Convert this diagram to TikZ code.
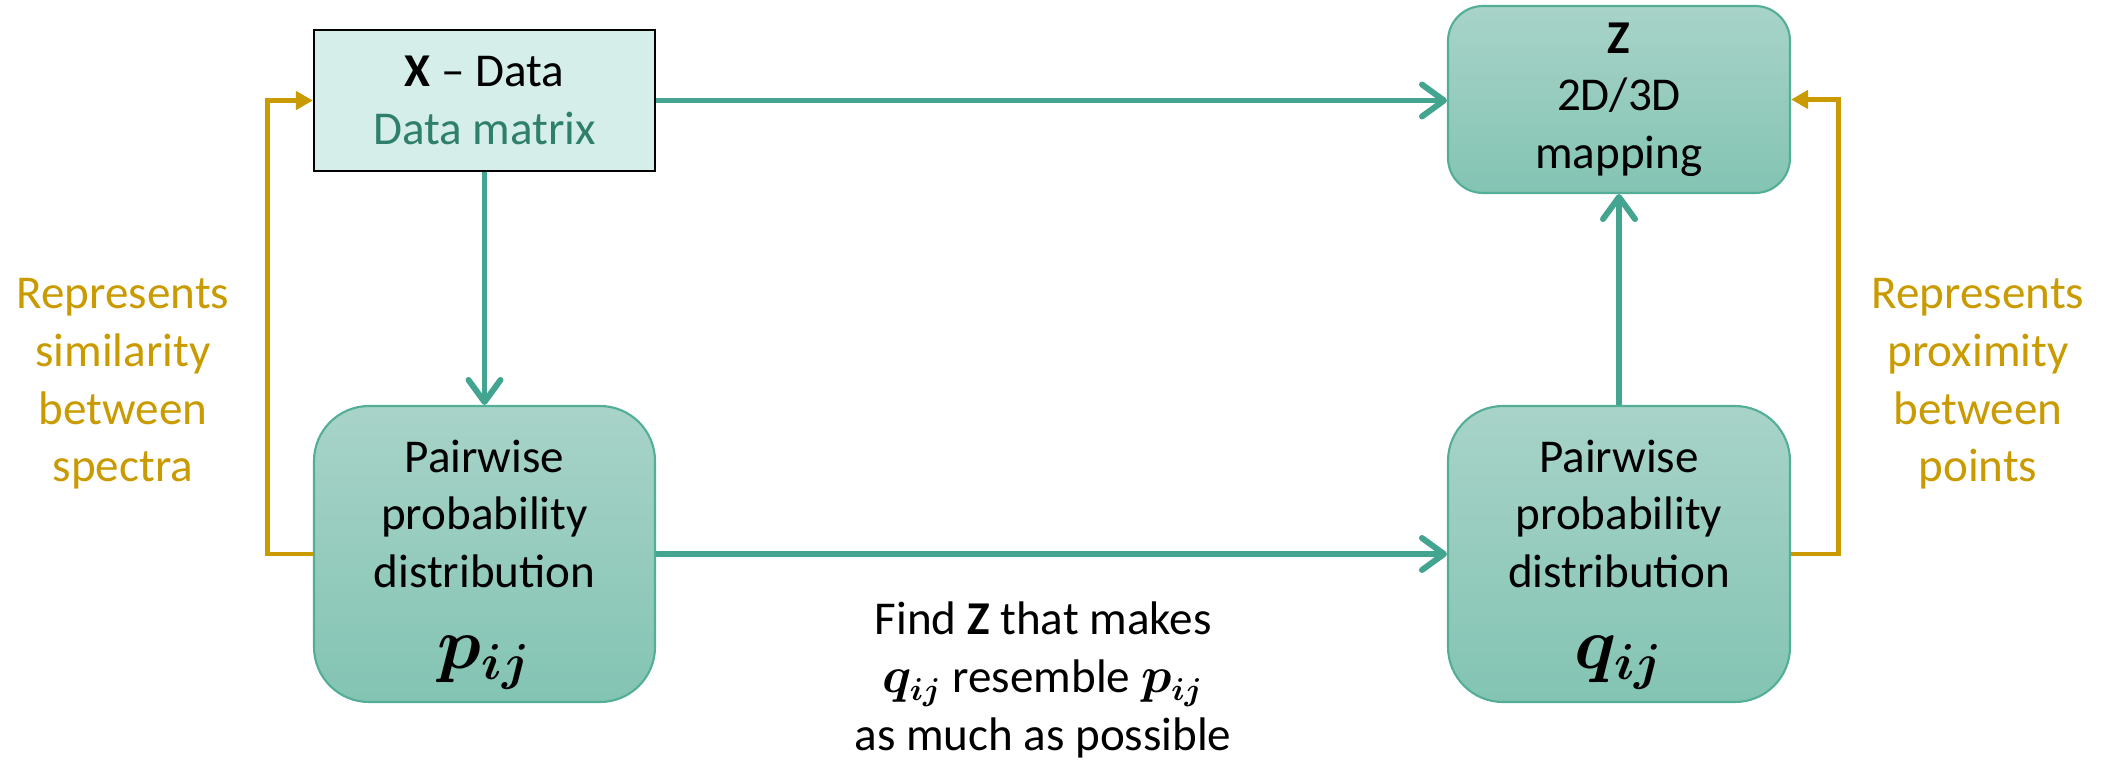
\documentclass[tikz,border=0pt]{standalone}
\usepackage{amsmath}
\usepackage{fontspec}
\setmainfont{Carlito}
\usetikzlibrary{positioning,arrows.meta}
\definecolor{tsneteal}{HTML}{43A58F}
\definecolor{tsneedge}{HTML}{52AE97}
\definecolor{tsnetop}{HTML}{A8D3C8}
\definecolor{tsnebottom}{HTML}{83C4B3}
\definecolor{tsnepale}{HTML}{D6EEEA}
\definecolor{tsnedark}{HTML}{2F7F6D}
\definecolor{tsnegold}{HTML}{C99B00}
\newcommand{\bigmath}{\fontsize{20}{24}\selectfont}
\newcommand{\topstrut}{\rule{0pt}{15.2pt}}

\begin{document}
\begin{tikzpicture}[every node/.style={font=\fontsize{13.4}{16.4}\selectfont, align=center},
    probbox/.style={draw=tsneedge, line width=0.6pt, top color=tsnetop, bottom color=tsnebottom,
      minimum width=3.41cm, minimum height=2.96cm, inner ysep=0pt, rounded corners=0.55cm},
    tealarrow/.style={draw=tsneteal, line width=1.7pt, -{Straight Barb[round,length=2.2mm,width=3.2mm]}},
    goldarrow/.style={draw=tsnegold, line width=1.4pt, -{Triangle[length=1.7mm,width=1.8mm]}},
    goldtext/.style={text=tsnegold}]
        \useasboundingbox (0,0) rectangle (21.07,-7.59);
        % data and mapping
        \node[draw=black, line width=0.6pt, fill=tsnepale, minimum width=3.41cm, minimum height=1.41cm] (xdata) at (4.845,-1.005) {\textbf{X} -- Data\\\textcolor{tsnedark}{Data matrix}};
        \node[probbox, minimum width=3.42cm, minimum height=1.87cm, rounded corners=0.35cm] (zmap) at (16.19,-0.995) {\textbf{Z}\\2D/3D\\mapping};
        % probability distributions
        \node[probbox] (pdist) at (4.845,-5.54) {\topstrut Pairwise\\probability\\distribution\\[6.7pt]{\bigmath$\boldsymbol{p_{ij}}$}};
        \node[probbox, minimum width=3.42cm] (qdist) at (16.19,-5.54) {\topstrut Pairwise\\probability\\distribution\\[6.7pt]{\bigmath$\boldsymbol{q_{ij}}$}};
        \draw[tealarrow] (xdata.east) -- (xdata.east -| zmap.west);
        \draw[tealarrow] (xdata.south) -- (pdist.north);
        \draw[tealarrow] (pdist.east) -- (pdist.east -| qdist.west);
        \draw[tealarrow] (qdist.north) -- (zmap.south);
        \draw[goldarrow] (pdist.west) -- ++(-0.45,0) |- (xdata.west);
        \draw[goldarrow] (qdist.east) -- ++(0.47,0) |- (zmap.east);
        % side notes
        \node[goldtext] (simnote) at (1.23,-3.84) {Represents\\similarity\\between\\spectra};
        \node[goldtext] (proxnote) at (19.78,-3.84) {Represents\\proximity\\between\\points};
        \node (goalnote) at (10.43,-6.8) {Find \textbf{Z} that makes\\$\boldsymbol{q_{ij}}$ resemble $\boldsymbol{p_{ij}}$\\as much as possible};
      \end{tikzpicture}
\end{document}
